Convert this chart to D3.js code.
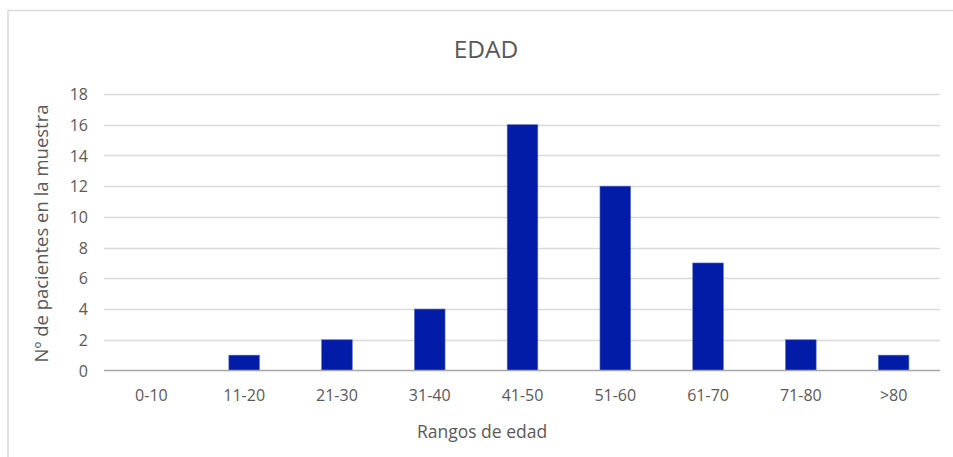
<!DOCTYPE html>
<html><head><meta charset="utf-8">
<script src="https://cdn.jsdelivr.net/npm/d3@7"></script>
<style>body{margin:0;background:#fff}svg{display:block}</style>
</head><body>
<svg id="c" width="953" height="457"></svg>
<script>
const categories = ["0-10","11-20","21-30","31-40","41-50","51-60","61-70","71-80",">80"];
const values = [0,1,2,4,16,12,7,2,1];
const yTicks = [0,2,4,6,8,10,12,14,16,18];
const title = "EDAD";
const xTitle = "Rangos de edad";
const yTitle = "Nº de pacientes en la muestra";

const svg = d3.select("#c");
const font = "'Open Sans', sans-serif";
const textColor = "#595959";

svg.append("rect").attr("x",8).attr("y",10.5).attr("width",960).attr("height",460)
  .attr("fill","#fff").attr("stroke","#d9d9d9").attr("stroke-width",1.5);

const x = d3.scaleBand().domain(categories).range([105,940]).paddingInner(0.67).paddingOuter(0.335);
const y = d3.scaleLinear().domain([0,18]).range([370.5,94]);

// gridlines
svg.append("g").selectAll("line").data(yTicks.filter(d=>d>0)).join("line")
  .attr("x1",104).attr("x2",940).attr("y1",d=>Math.round(y(d))+0.5).attr("y2",d=>Math.round(y(d))+0.5)
  .attr("stroke","#d9d9d9").attr("stroke-width",1.3);

// y axis labels
const yAxis = svg.append("g").attr("transform","translate(88,0)")
  .call(d3.axisLeft(y).tickValues(yTicks).tickSize(0).tickPadding(0));
yAxis.select(".domain").remove();
yAxis.selectAll("text").attr("font-family",font).attr("font-size",16).attr("fill",textColor).attr("dy","0.35em").attr("text-anchor","end");

// bars
svg.append("g").selectAll("rect").data(values).join("rect")
  .attr("x",(d,i)=>x(categories[i])).attr("width",x.bandwidth())
  .attr("y",d=>y(d)).attr("height",d=>y(0)-y(d))
  .attr("fill","#031ca8").attr("stroke","#5a6cc4").attr("stroke-width",0.6);

// x axis
const xAxis = svg.append("g").attr("transform","translate(0,370.5)")
  .call(d3.axisBottom(x).tickSize(0).tickPadding(19));
xAxis.select(".domain").attr("stroke","#a6a6a6").attr("stroke-width",1.5).attr("d","M104,0H940");
xAxis.selectAll("text").attr("font-family",font).attr("font-size",16).attr("fill",textColor);

// titles
svg.append("text").attr("x",486).attr("y",58).attr("text-anchor","middle")
  .attr("font-family",font).attr("font-size",24.5).attr("fill",textColor).text(title);
svg.append("text").attr("x",482).attr("y",438).attr("text-anchor","middle")
  .attr("font-family",font).attr("font-size",17.5).attr("fill",textColor).text(xTitle);
svg.append("text").attr("transform","translate(48,233.5) rotate(-90)").attr("text-anchor","middle")
  .attr("font-family",font).attr("font-size",18.5).attr("fill",textColor).text(yTitle);
</script>
</body></html>
